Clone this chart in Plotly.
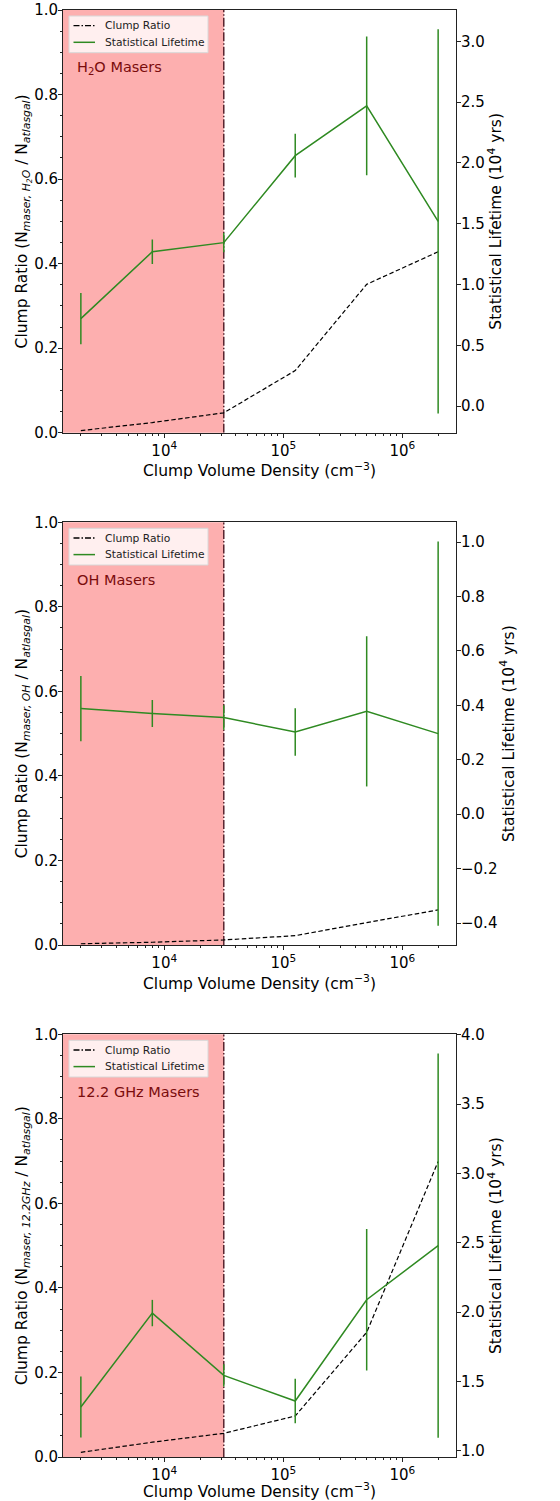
import plotly.graph_objects as go

# ---------------- data ----------------
density = [10**3.3, 10**3.9, 10**4.5, 10**5.1, 10**5.7, 10**6.3]
shade_edge = 10**4.5

h2o_ratio = [0.005, 0.024, 0.047, 0.147, 0.351, 0.428]
h2o_life = [0.72, 1.27, 1.345, 2.06, 2.47, 1.52]
h2o_err = [0.21, 0.10, 0.08, 0.18, 0.57, 1.58]

oh_ratio = [0.003, 0.0065, 0.012, 0.022, 0.053, 0.083]
oh_life = [0.388, 0.37, 0.355, 0.302, 0.378, 0.296]
oh_err = [0.12, 0.05, 0.045, 0.087, 0.276, 0.706]

m12_ratio = [0.011, 0.035, 0.056, 0.097, 0.295, 0.699]
m12_life = [1.317, 1.994, 1.545, 1.36, 2.09, 2.48]
m12_err = [0.22, 0.095, 0.08, 0.16, 0.51, 1.385]

panel_labels = ["H<sub>2</sub>O Masers", "OH Masers", "12.2 GHz Masers"]
ratio_titles = [
    "Clump Ratio (N<sub><i>maser, H<sub>2</sub>O</i></sub> / N<sub><i>atlasgal</i></sub>)",
    "Clump Ratio (N<sub><i>maser, OH</i></sub> / N<sub><i>atlasgal</i></sub>)",
    "Clump Ratio (N<sub><i>maser, 12.2GHz</i></sub> / N<sub><i>atlasgal</i></sub>)",
]
legend_names = ["Clump Ratio", "Statistical Lifetime"]
life_dticks = [0.5, 0.2, 0.5]
x_tickvals = [1e4, 1e5, 1e6]
x_ticktext = ["10<sup>4</sup>", "10<sup>5</sup>", "10<sup>6</sup>"]

panels = [
    (h2o_ratio, h2o_life, h2o_err),
    (oh_ratio, oh_life, oh_err),
    (m12_ratio, m12_life, m12_err),
]

# ---------------- layout geometry ----------------
W, H = 560, 1501
L, R = 63, 456
T, B = 10, 1457
panel_tops = [10, 522.3, 1034.3]
panel_h = 422.7
plot_h = B - T
plot_w = R - L

FONT = "DejaVu Sans, Liberation Sans, sans-serif"
GREEN = "#2f8a22"
AX = "#222222"
SHADE = "rgba(250,70,70,0.43)"
VLINE = "#5a2630"
TICKF = 15
TITLEF = 15.5

minor_x = [m * 10**k for k in range(3, 7) for m in range(2, 10)]


def dx(px):
    return (px - L) / plot_w


def dy(off):
    return 1 - off / panel_h


fig = go.Figure()
layout = dict(
    width=W, height=H,
    margin=dict(l=L, r=W - R, t=T, b=H - B),
    paper_bgcolor="white", plot_bgcolor="white",
    font=dict(family=FONT, size=TICKF, color="black"),
    showlegend=False,
)
shapes = []
annotations = []

for i, (ratio, life, err) in enumerate(panels):
    top = panel_tops[i]
    dom = [1 - (top + panel_h - T) / plot_h, 1 - (top - T) / plot_h]
    xa = "xaxis" if i == 0 else f"xaxis{i+1}"
    xr = "x" if i == 0 else f"x{i+1}"
    yl_n = 2 * i + 1
    yr_n = 2 * i + 2
    yla = "yaxis" if yl_n == 1 else f"yaxis{yl_n}"
    ylr = "y" if yl_n == 1 else f"y{yl_n}"
    yra = f"yaxis{yr_n}"
    yrr = f"y{yr_n}"

    lo = min(v - e for v, e in zip(life, err))
    hi = max(v + e for v, e in zip(life, err))
    pad = 0.05 * (hi - lo)

    layout[xa] = dict(
        type="log", range=[3.15, 6.45], domain=[0, 1], anchor=ylr,
        tickvals=x_tickvals, ticktext=x_ticktext,
        ticks="outside", ticklen=4, tickwidth=1, tickcolor=AX,
        minor=dict(tickvals=minor_x, ticks="outside", ticklen=2, tickwidth=0.8, tickcolor=AX),
        showline=True, linecolor=AX, linewidth=1, mirror=True,
        showgrid=False, zeroline=False,
        tickfont=dict(size=TICKF),
        title=dict(text="Clump Volume Density (cm<sup>−3</sup>)", font=dict(size=TITLEF), standoff=0),
        automargin=False,
    )
    layout[yla] = dict(
        domain=dom, anchor=xr, range=[0, 1],
        tickvals=[0, 0.2, 0.4, 0.6, 0.8, 1.0], tickformat=".1f",
        ticks="outside", ticklen=4, tickwidth=1, tickcolor=AX,
        minor=dict(dtick=0.05, tick0=0, ticks="outside", ticklen=2, tickwidth=0.8, tickcolor=AX),
        showline=True, linecolor=AX, linewidth=1, mirror=True,
        showgrid=False, zeroline=False,
        tickfont=dict(size=TICKF), ticklabelstandoff=-3,
        title=dict(text=ratio_titles[i], font=dict(size=TITLEF), standoff=2),
        automargin=False,
    )
    layout[yra] = dict(
        overlaying=ylr, side="right", anchor=xr,
        range=[lo - pad, hi + pad], dtick=life_dticks[i], tick0=0, tickformat=".1f",
        ticks="outside", ticklen=4, tickwidth=1, tickcolor=AX,
        showline=True, linecolor=AX, linewidth=1,
        showgrid=False, zeroline=False,
        tickfont=dict(size=TICKF), ticklabelstandoff=-3,
        title=dict(text="Statistical Lifetime (10<sup>4</sup> yrs)", font=dict(size=TITLEF), standoff=6),
        automargin=False,
    )

    # shaded region
    shapes.append(dict(type="rect", xref=xr, yref=f"{ylr} domain",
                       x0=10**3.15, x1=shade_edge, y0=0, y1=1,
                       fillcolor=SHADE, line=dict(width=0), layer="below"))

    # threshold line
    fig.add_trace(go.Scatter(
        x=[shade_edge, shade_edge], y=[0, 1], xaxis=xr, yaxis=ylr, mode="lines",
        line=dict(color=VLINE, width=1.5, dash="9px,2px,1.5px,2px"),
        hoverinfo="skip"))

    # clump ratio (dashed)
    fig.add_trace(go.Scatter(
        x=density, y=ratio, xaxis=xr, yaxis=ylr, mode="lines", name=legend_names[0],
        line=dict(color="black", width=1.2, dash="4.5px,2.5px")))

    # statistical lifetime with error bars
    fig.add_trace(go.Scatter(
        x=density, y=life, xaxis=xr, yaxis=yrr, mode="lines", name=legend_names[1],
        line=dict(color=GREEN, width=1.5),
        error_y=dict(type="data", array=err, visible=True, color=GREEN, thickness=1.5, width=0)))

    # legend box (matplotlib-style, upper left)
    xd, yd = f"{xr} domain", f"{ylr} domain"
    shapes.append(dict(type="rect", xref=xd, yref=yd,
                       x0=dx(69), x1=dx(208), y0=dy(42.7), y1=dy(6),
                       fillcolor="rgba(255,255,255,0.8)", line=dict(color="#d8d8d8", width=1),
                       layer="above"))
    shapes.append(dict(type="line", xref=xd, yref=yd,
                       x0=dx(73.5), x1=dx(95), y0=dy(15.7), y1=dy(15.7),
                       line=dict(color="black", width=1.3, dash="6px,2px,1.5px,2px"),
                       layer="above"))
    shapes.append(dict(type="line", xref=xd, yref=yd,
                       x0=dx(73.5), x1=dx(95), y0=dy(32.3), y1=dy(32.3),
                       line=dict(color=GREEN, width=1.5), layer="above"))
    for name, off in zip(legend_names, [15.7, 32.3]):
        annotations.append(dict(
            xref=xd, yref=yd, x=dx(102.5), y=dy(off), xanchor="left", yanchor="middle",
            showarrow=False, text=name, font=dict(size=10.7, color="#222")))

    annotations.append(dict(
        xref=xd, yref=yd, x=0.03, y=0.863,
        xanchor="left", yanchor="middle", showarrow=False,
        text=panel_labels[i], font=dict(size=14.5, color="#7a0c0c")))

layout["shapes"] = shapes
layout["annotations"] = annotations
fig.update_layout(**layout)
fig.write_html("out.html", config={"displayModeBar": False},
               post_script="document.body.style.margin='0px';")
